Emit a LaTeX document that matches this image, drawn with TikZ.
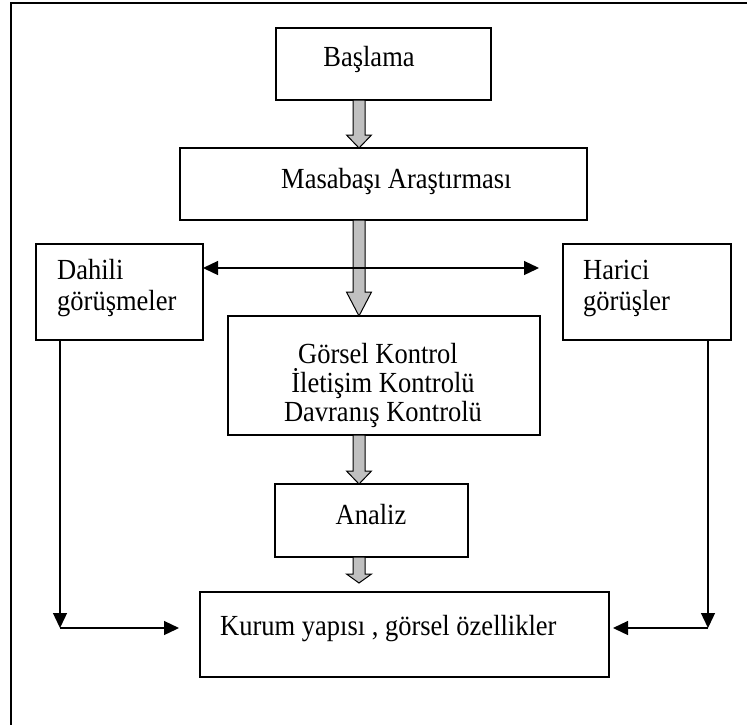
\documentclass[tikz,border=0pt]{standalone}
\usepackage{fontspec}
\setmainfont{Liberation Serif}
\usetikzlibrary{arrows.meta}
\definecolor{arrowgray}{HTML}{C0C0C0}
\tikzset{
  box/.style={draw=black, line width=1.5pt, inner sep=0pt, outer sep=0pt, fill=white},
  txt/.style={inner sep=0pt, font=\fontsize{26.5}{30}\selectfont},
  conn/.style={draw=black, line width=1.3pt, -{Triangle[length=15pt,width=14pt]}},
  dconn/.style={draw=black, line width=1.3pt, {Triangle[length=15pt,width=14pt]}-{Triangle[length=15pt,width=14pt]}},
  barrow/.style={draw=black, line width=1pt, fill=arrowgray, line join=miter},
  frame/.style={draw=black, line width=2pt}
}
\newcommand\tall[1]{\scalebox{1}[1.1]{#1}}
% box by corner coordinates: name, x1, y1, x2, y2
\newcommand\mkbox[5]{%
  \pgfmathsetmacro\bw{#4-#2}\pgfmathsetmacro\bh{#5-#3}%
  \pgfmathsetmacro\bx{(#2+#4)/2}\pgfmathsetmacro\by{(#3+#5)/2}%
  \node[box, minimum width=\bw pt, minimum height=\bh pt] (#1) at (\bx,\by) {};}
% gray block arrow: from node, to node, head length, gap above target
\newcommand\blockarrow[4]{%
  \filldraw[barrow]
    ([xshift=-6pt]axis |- #1.south) --
    ([xshift=-6pt,yshift=#3+#4]axis |- #2.north) --
    ([xshift=-12.5pt,yshift=#3+#4]axis |- #2.north) --
    ([yshift=#4]axis |- #2.north) --
    ([xshift=12.5pt,yshift=#3+#4]axis |- #2.north) --
    ([xshift=6pt,yshift=#3+#4]axis |- #2.north) --
    ([xshift=6pt]axis |- #1.south) -- cycle;}
\begin{document}
\begin{tikzpicture}[x=1pt,y=-1pt]
\useasboundingbox (0,0) rectangle (747,724);
% outer frame (right and bottom edges lie outside the picture)
\draw[frame] (10.5,800) -- (10.5,3) -- (800,3);

% boxes
\mkbox{bas}{276}{28}{491}{100}
\mkbox{mas}{180}{148}{587}{220}
\mkbox{dah}{36}{244}{203}{340}
\mkbox{har}{563}{244}{731}{340}
\mkbox{gor}{228}{316}{540}{435}
\mkbox{ana}{275}{484}{468}{557}
\mkbox{kur}{200}{592}{609}{677}

% texts
\node[txt, anchor=base] (tbas) at (369,66) {\tall{Başlama}};
\node[txt, anchor=base west] (tmas) at (281,188) {\tall{Masabaşı Araştırması}};
\node[txt, anchor=base west] (tdah1) at (57,279) {\tall{Dahili}};
\node[txt, anchor=base west] (tdah2) at (57,310) {\tall{görüşmeler}};
\node[txt, anchor=base west] (thar1) at (583,279) {\tall{Harici}};
\node[txt, anchor=base west] (thar2) at (583,310) {\tall{görüşler}};
\node[txt, anchor=base] (tgor1) at (378,363) {\tall{Görsel Kontrol}};
\node[txt, anchor=base] (tgor2) at (383,392) {\tall{İletişim Kontrolü}};
\node[txt, anchor=base] (tgor3) at (383,421) {\tall{Davranış Kontrolü}};
\node[txt, anchor=base] (tana) at (371,524) {\tall{Analiz}};
\node[txt, anchor=base west] (tkur) at (220,635) {\tall{Kurum yapısı , görsel özellikler}};

% gray block arrows
\coordinate (axis) at (359,0);
\blockarrow{bas}{mas}{13pt}{0pt}
\blockarrow{mas}{gor}{24pt}{0pt}
\blockarrow{gor}{ana}{13pt}{0pt}
\blockarrow{ana}{kur}{9pt}{9pt}

% horizontal double arrow
\coordinate (hR) at (539,268);
\draw[dconn] (dah.east |- hR) -- (hR);

% side connectors
\coordinate (lc) at (60,628);
\coordinate (lt) at (179,628);
\coordinate (rc) at (708,628);
\coordinate (rt) at (613,628);
\draw[conn] (dah.south -| lc) -- (lc);
\draw[conn] (lc) -- (lt);
\draw[conn] (har.south -| rc) -- (rc);
\draw[conn] (rc) -- (rt);
\end{tikzpicture}
\end{document}
